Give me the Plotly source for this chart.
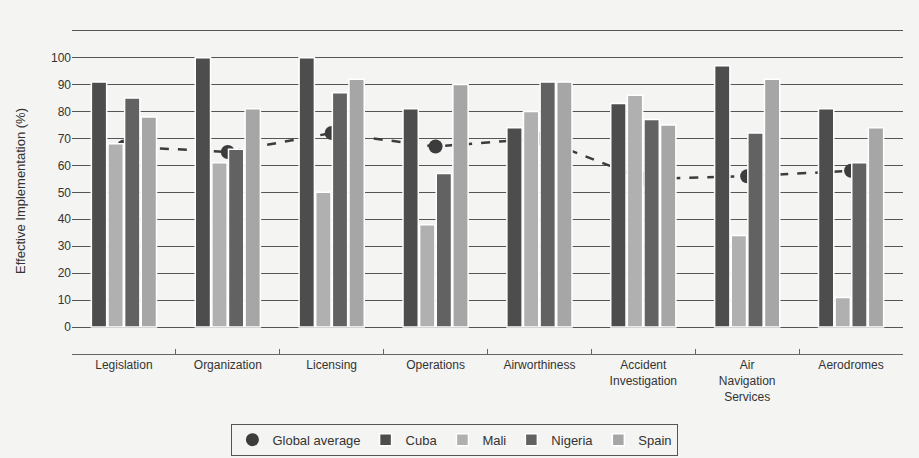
import plotly.graph_objects as go

categories = ["Legislation", "Organization", "Licensing", "Operations", "Airworthiness",
              "Accident<br>Investigation", "Air<br>Navigation<br>Services", "Aerodromes"]
global_avg = [67, 65, 72, 67, 70, 55, 56, 58]
cuba = [91, 100, 100, 81, 74, 83, 97, 81]
mali = [68, 61, 50, 38, 80, 86, 34, 11]
nigeria = [85, 66, 87, 57, 91, 77, 72, 61]
spain = [78, 81, 92, 90, 91, 75, 92, 74]
y_ticks = [0, 10, 20, 30, 40, 50, 60, 70, 80, 90, 100, 110]
y_labels = ["0", "10", "20", "30", "40", "50", "60", "70", "80", "90", "100", ""]

fig = go.Figure()
fig.add_trace(go.Scatter(x=categories, y=global_avg, name="Global average",
                         mode="lines+markers", showlegend=False,
                         line=dict(color="#3c3c3c", width=2.5, dash="dash"),
                         marker=dict(color="#3c3c3c", size=14, symbol="circle"),
                         xaxis="x", yaxis="y"))
fig.add_trace(go.Scatter(x=[None], y=[None], name="Global average", mode="markers",
                         marker=dict(color="#3c3c3c", size=13, symbol="circle"),
                         xaxis="x", yaxis="y"))
series = [("Cuba", cuba, "#4d4d4d"), ("Mali", mali, "#b0b0b0"),
          ("Nigeria", nigeria, "#626262"), ("Spain", spain, "#a6a6a6")]
for name, vals, col in series:
    fig.add_trace(go.Bar(x=categories, y=vals, name=name,
                         marker=dict(color=col, line=dict(color="#ffffff", width=1.5)),
                         xaxis="x", yaxis="y2"))

font = "Liberation Sans, Arial, sans-serif"
fig.update_layout(
    width=919, height=458,
    margin=dict(l=72, r=16, t=28, b=104, autoexpand=False),
    paper_bgcolor="#f4f4f2", plot_bgcolor="#f4f4f2",
    font=dict(family=font, size=12, color="#333333"),
    barmode="group", bargap=0.36, bargroupgap=0.08,
    showlegend=True,
    legend=dict(orientation="h", xref="container", yref="container",
                x=0.495, xanchor="center", y=0.04, yanchor="middle",
                bordercolor="#555555", borderwidth=1, bgcolor="#f4f4f2",
                itemwidth=30, tracegroupgap=0,
                font=dict(size=13, color="#333333"), traceorder="normal"),
    xaxis=dict(showgrid=False, showline=True, linecolor="#666666", linewidth=1,
               ticks="inside", tickson="boundaries", ticklen=5, tickcolor="#666666",
               tickfont=dict(size=12, color="#333333")),
    yaxis=dict(range=[-10, 111], tickvals=y_ticks, ticktext=y_labels,
               showgrid=True, gridcolor="#555555", gridwidth=1, zeroline=False,
               showline=False, ticks="", tickfont=dict(size=12, color="#333333"),
               title=dict(text="Effective Implementation (%)", font=dict(size=13, color="#333333"),
                          standoff=22)),
    yaxis2=dict(range=[-10, 111], overlaying="y", showgrid=False, zeroline=False,
                showticklabels=False, showline=False, ticks=""),
)
fig.write_html("out.html")
